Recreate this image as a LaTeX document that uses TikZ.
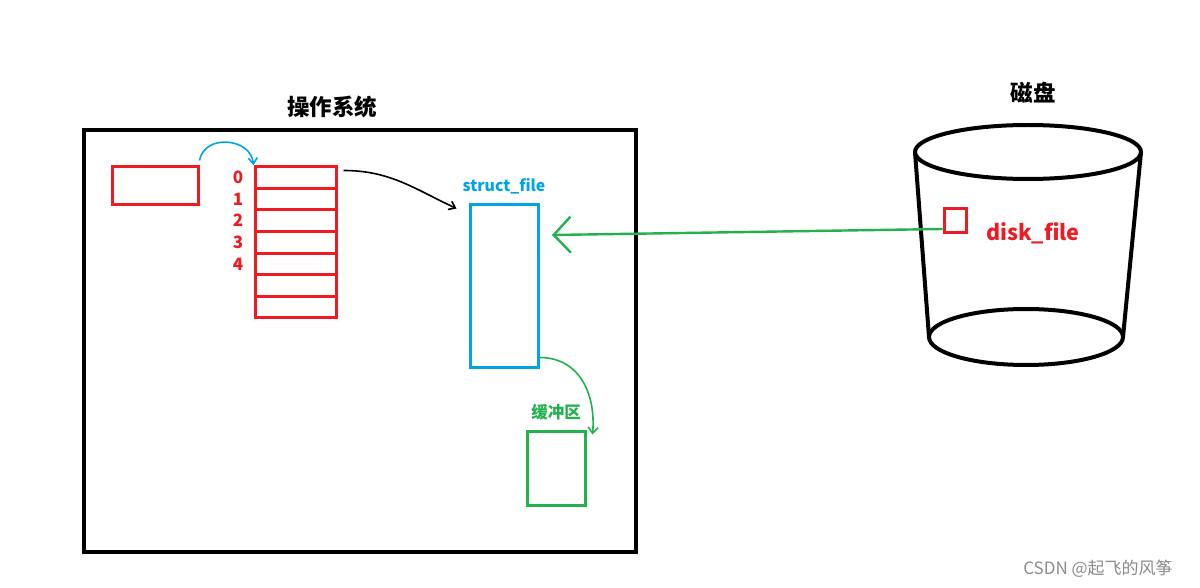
\documentclass[tikz,border=0pt]{standalone}
\usepackage{fontspec}
\setmainfont{Noto Sans CJK SC}
\usetikzlibrary{arrows.meta,positioning}
\definecolor{paintred}{RGB}{237,28,36}
\definecolor{paintblue}{RGB}{0,162,232}
\definecolor{paintgreen}{RGB}{34,177,76}

\begin{document}
\begin{tikzpicture}[x=1pt,y=-1pt,
    redbox/.style={draw=paintred,line width=3pt,inner sep=0pt},
    fdlabel/.style={text=paintred,font=\fontsize{17}{17}\selectfont\bfseries,inner sep=0pt},
    hand/.style={line width=1.6pt},
    title/.style={font=\fontsize{22.5}{22.5}\selectfont\bfseries,inner sep=0pt}]
    \useasboundingbox (0,0) rectangle (1200,588);
    % Operating system
    \node[draw,line width=4pt,minimum width=552pt,minimum height=422pt,inner sep=0pt]
      (os) at (360,341) {};
    \node[title] (oslabel) at (332,107) {操作系统};
    \node[redbox,minimum width=86pt,minimum height=38pt] (task) at (155,186) {};
    % fd array: rows 0..6
    \foreach \i in {0,...,6}
      \node[redbox,minimum width=81pt,minimum height=21.6pt]
        (row\i) at (295.5,{166.7+21.6*(\i+0.5)}) {};
    \foreach \i in {0,...,4}
      \node[fdlabel,left=10pt of row\i.west] (idx\i) {\i};
    \draw[paintblue,hand,-{Straight Barb[length=6pt,width=9pt]}]
      ([yshift=5pt]task.north east) to[out=80,in=95,looseness=1.3] (row0.north west);
    % struct_file
    \node[draw=paintblue,line width=3pt,minimum width=68pt,minimum height=162pt,inner sep=0pt]
      (sf) at (504,286) {};
    \node[text=paintblue,font=\fontsize{15.8}{15.8}\selectfont\bfseries,above=6pt of sf.north]
      (sflabel) {struct\_file};
    \draw[hand,-{Straight Barb[length=6pt,width=9pt]}]
      ([xshift=6pt,yshift=7pt]row0.east) to[out=0,in=155] ([xshift=-12pt,yshift=-5pt]sf.north west);
    % buffer
    \node[draw=paintgreen,line width=3pt,minimum width=58pt,minimum height=74pt,inner sep=0pt]
      (buf) at (556,468) {};
    \node[text=paintgreen,font=\fontsize{16.5}{16.5}\selectfont\bfseries,above=6pt of buf.north]
      (buflabel) {缓冲区};
    \draw[paintgreen,hand,-{Straight Barb[length=6pt,width=10pt]}]
      ([yshift=11pt]sf.south east) to[out=0,in=85,looseness=1.1] ([xshift=6pt,yshift=-5pt]buf.north east);
    % Disk
    \node[title] (disklabel) at (1033,93) {磁盘};
    \draw[line width=4pt] (1028,152) ellipse [x radius=113,y radius=27];
    \draw[line width=4pt] (1026,337) ellipse [x radius=97,y radius=28];
    \draw[line width=4pt] (915,152) -- (929,337);
    \draw[line width=4pt] (1141,152) -- (1123,337);
    \node[redbox,minimum width=22pt,minimum height=24pt] (df) at (955,221) {};
    \node[text=paintred,font=\fontsize{21.5}{21.5}\selectfont\bfseries,inner sep=0pt]
      (dflabel) at (1033,233) {disk\_file};
    \coordinate (sfin) at (552,235);
    \draw[paintgreen,line width=2.4pt,-{Straight Barb[length=17pt,width=36pt,line width=2.4pt]}]
      ([yshift=-8pt]df.west) -- (sfin);
    % Watermark
    \node[text=black!45,font=\fontsize{17}{17}\selectfont,inner sep=0pt]
      (mark) at (1098,569) {CSDN @起飞的风筝};
\end{tikzpicture}
\end{document}
